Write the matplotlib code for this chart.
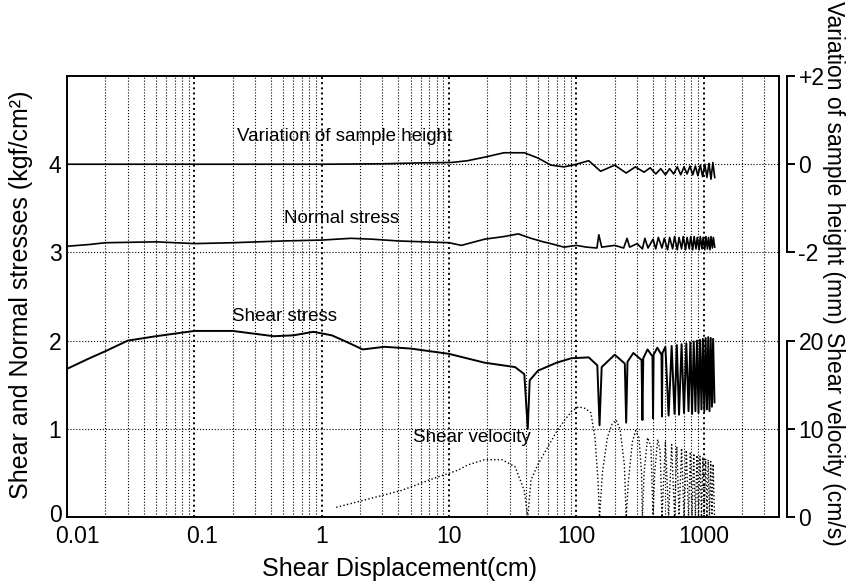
#! /usr/bin/env python

import numpy as np
import matplotlib
matplotlib.use("Agg")
import matplotlib.pyplot as plt
from matplotlib.ticker import LogLocator, NullFormatter
from matplotlib.transforms import ScaledTranslation

plt.rcParams['font.family'] = ['Liberation Sans', 'DejaVu Sans']

# shear stress (kgf/cm2) vs displacement (cm)
shear_x = [0.01, 0.015, 0.02, 0.03, 0.05, 0.1, 0.2, 0.42, 0.6, 0.86, 1.2, 1.6, 2.1, 3.1, 5, 10, 19, 33, 39,
           41.5, 43, 50, 70, 91, 125, 146, 152, 158, 200, 240, 246, 252, 280, 325, 330, 335, 362, 396, 400,
           404, 432, 466, 470, 474, 500, 530, 560, 590, 615, 640, 670, 700, 730, 760, 785, 810, 835, 860,
           885, 910, 935, 960, 985, 1010, 1035, 1060, 1085, 1110, 1135, 1160, 1185, 1215]
shear_y = [1.68, 1.8, 1.88, 2.0, 2.05, 2.11, 2.11, 2.05, 2.06, 2.10, 2.06, 1.98, 1.90, 1.93, 1.91, 1.85, 1.75,
           1.70, 1.62, 1.0, 1.55, 1.66, 1.75, 1.80, 1.81, 1.72, 1.04, 1.70, 1.84, 1.74, 1.07, 1.76, 1.86, 1.78,
           1.10, 1.80, 1.90, 1.82, 1.12, 1.84, 1.92, 1.84, 1.14, 1.86, 1.93, 1.15, 1.94, 1.17, 1.95, 1.16, 1.96,
           1.18, 1.97, 1.2, 1.98, 1.17, 1.99, 1.2, 2.0, 1.18, 2.01, 1.22, 2.02, 1.2, 2.03, 1.22, 2.04, 1.2, 2.03,
           1.25, 2.02, 1.3]

# normal stress (kgf/cm2)
normal_x = [0.01, 0.015, 0.02, 0.05, 0.1, 0.2, 0.5, 1, 1.7, 2.5, 4, 10, 12.5, 19, 27, 35, 44, 55, 63, 80, 100,
            120, 145, 150, 158, 200, 235, 250, 262, 300, 330, 345, 365, 400, 420, 440, 470, 490, 520, 540, 570,
            590, 620, 640, 670, 690, 720, 740, 770, 790, 820, 840, 870, 890, 920, 940, 970, 990, 1020, 1040,
            1070, 1090, 1120, 1140, 1170, 1190, 1220]
normal_y = [3.07, 3.09, 3.11, 3.12, 3.10, 3.11, 3.13, 3.14, 3.16, 3.15, 3.13, 3.11, 3.08, 3.15, 3.18, 3.21,
            3.16, 3.12, 3.10, 3.06, 3.08, 3.06, 3.05, 3.2, 3.06, 3.08, 3.05, 3.16, 3.06, 3.1, 3.04, 3.16, 3.05,
            3.15, 3.04, 3.17, 3.05, 3.16, 3.03, 3.17, 3.04, 3.18, 3.03, 3.17, 3.04, 3.18, 3.03, 3.17, 3.04, 3.18,
            3.03, 3.18, 3.04, 3.17, 3.03, 3.18, 3.04, 3.17, 3.03, 3.18, 3.04, 3.17, 3.03, 3.18, 3.05, 3.17, 3.06]

# variation of sample height (mm)
height_x = [0.01, 0.1, 1, 3, 6, 10.5, 14, 19, 27, 39, 50, 63, 80, 100, 125, 155, 200, 246, 290, 340, 380,
            420, 460, 500, 540, 580, 620, 660, 700, 740, 780, 820, 860, 900, 940, 980, 1020, 1060, 1100, 1140,
            1180, 1220]
height_y = [0.0, 0.0, 0.0, 0.01, 0.03, 0.04, 0.08, 0.16, 0.26, 0.26, 0.14, -0.02, -0.06, 0.0, 0.08, -0.16,
            -0.02, -0.2, -0.06, -0.18, -0.08, -0.22, -0.1, -0.24, -0.1, -0.22, -0.06, -0.24, -0.06, -0.22,
            -0.04, -0.24, -0.04, -0.26, -0.02, -0.28, 0.0, -0.3, 0.02, -0.34, 0.04, -0.3]

# shear velocity (cm/s)
vel_x = [1.3, 4.2, 8, 11.7, 14, 19, 26, 33, 39, 41.5, 44, 50, 60, 70, 81, 92, 104, 118, 130, 140, 148, 152,
         160, 175, 190, 205, 220, 238, 246, 256, 275, 292, 310, 325, 330, 340, 362, 385, 400, 412, 435, 455,
         470, 500, 530, 560, 590, 615, 640, 670, 700, 730, 760, 785, 810, 835, 860, 885, 910, 935, 960, 985,
         1010, 1035, 1060, 1085, 1110, 1135, 1160, 1185, 1215]
vel_y = [1.1, 3.0, 4.5, 5.3, 5.9, 6.5, 6.5, 5.7, 3.0, 0, 4.2, 6.0, 8.0, 9.7, 11.0, 12.0, 12.5, 12.3, 11.8, 9.0,
         4.0, 0, 5.0, 9.0, 10.5, 11.0, 10.0, 6.0, 0, 4.0, 8.5, 9.8, 9.0, 5.0, 0, 5.0, 9.0, 8.0, 0, 5.0, 8.8,
         7.5, 0, 8.5, 0, 8.2, 0, 8.0, 0, 7.8, 0, 7.6, 0, 7.4, 0, 7.2, 0, 7.0, 0, 6.9, 0, 6.8, 0, 6.6, 0, 6.5,
         0, 6.3, 0, 6.0, 0]

xticks = [0.01, 0.1, 1, 10, 100, 1000]
xtick_labels = ['0.01', '0.1', '1', '10', '100', '1000']

fig = plt.figure(figsize=(8.55, 5.88), dpi=100)
ax = fig.add_axes([0.0784, 0.1207, 0.8327, 0.75])

ax.set_xscale('log')
ax.set_xlim(0.01, 3900)
ax.set_ylim(0, 5)
ax.set_xticks(xticks)
ax.set_xticklabels(xtick_labels)
ax.set_yticks([0, 1, 2, 3, 4])
ax.xaxis.set_minor_locator(LogLocator(base=10, subs=np.arange(2, 10), numticks=100))
ax.xaxis.set_minor_formatter(NullFormatter())
ax.tick_params(which='both', length=0, labelsize=16.5)
ax.tick_params(axis='x', pad=6)
ax.tick_params(axis='y', pad=4)
ax.grid(True, which='major', axis='x', ls=':', lw=1.4, color='k')
ax.grid(True, which='minor', axis='x', ls=':', lw=0.8, color='k')
ax.grid(True, which='major', axis='y', ls=':', lw=0.8, color='k')
for s in ax.spines.values():
    s.set_linewidth(1.4)

# the first two x labels sit a bit right of their ticks, the "0" a bit high
for lab, dx in zip(ax.get_xticklabels()[:2], [10, 8]):
    lab.set_transform(lab.get_transform() + ScaledTranslation(dx / 100, 0, fig.dpi_scale_trans))
ylab0 = ax.get_yticklabels()[0]
ylab0.set_transform(ylab0.get_transform() + ScaledTranslation(0, 4 / 100, fig.dpi_scale_trans))

ax.plot(shear_x, shear_y, color='k', lw=1.4)
ax.plot(normal_x, normal_y, color='k', lw=1.2)

# sample height axis (upper right)
axh = ax.twinx()
axh.set_ylim(-8, 2)
axh.plot(height_x, height_y, color='k', lw=1.2)
for k in ['top', 'bottom', 'left']:
    axh.spines[k].set_visible(False)
axh.spines['right'].set_position(('outward', 6))
axh.spines['right'].set_bounds(-2, 2)
axh.spines['right'].set_linewidth(1.4)
axh.set_yticks([-2, 0, 2])
axh.set_yticklabels(['-2', '0', '+2'])
axh.tick_params(axis='y', direction='out', length=6, width=1.4, labelsize=16.5, pad=2)

# shear velocity axis (lower right)
axv = ax.twinx()
axv.set_ylim(0, 50)
axv.plot(vel_x, vel_y, color='k', lw=1.0, ls=':')
for k in ['top', 'bottom', 'left']:
    axv.spines[k].set_visible(False)
axv.spines['right'].set_position(('outward', 6))
axv.spines['right'].set_bounds(0, 20)
axv.spines['right'].set_linewidth(1.4)
axv.set_yticks([0, 10, 20])
axv.tick_params(axis='y', direction='out', length=6, width=1.4, labelsize=16.5, pad=2)

ax.text(0.218, 4.31, 'Variation of sample height', fontsize=13.5, ha='left', va='center')
ax.text(0.503, 3.39, 'Normal stress', fontsize=13.5, ha='left', va='center')
ax.text(0.199, 2.27, 'Shear stress', fontsize=13.5, ha='left', va='center')
ax.text(5.2, 0.9, 'Shear velocity', fontsize=13.5, ha='left', va='center')

fig.text(0.025, 0.498, 'Shear and Normal stresses (kgf/cm²)', rotation=90, fontsize=18,
         ha='center', va='center')
fig.text(0.467, 0.032, 'Shear Displacement(cm)', fontsize=18, ha='center', va='center')
fig.text(0.975, 0.724, 'Variation of sample height (mm)', rotation=270, fontsize=16.5,
         ha='center', va='center')
fig.text(0.975, 0.253, 'Shear velocity (cm/s)', rotation=270, fontsize=16.5,
         ha='center', va='center')

plt.savefig("out.png", dpi=100)
